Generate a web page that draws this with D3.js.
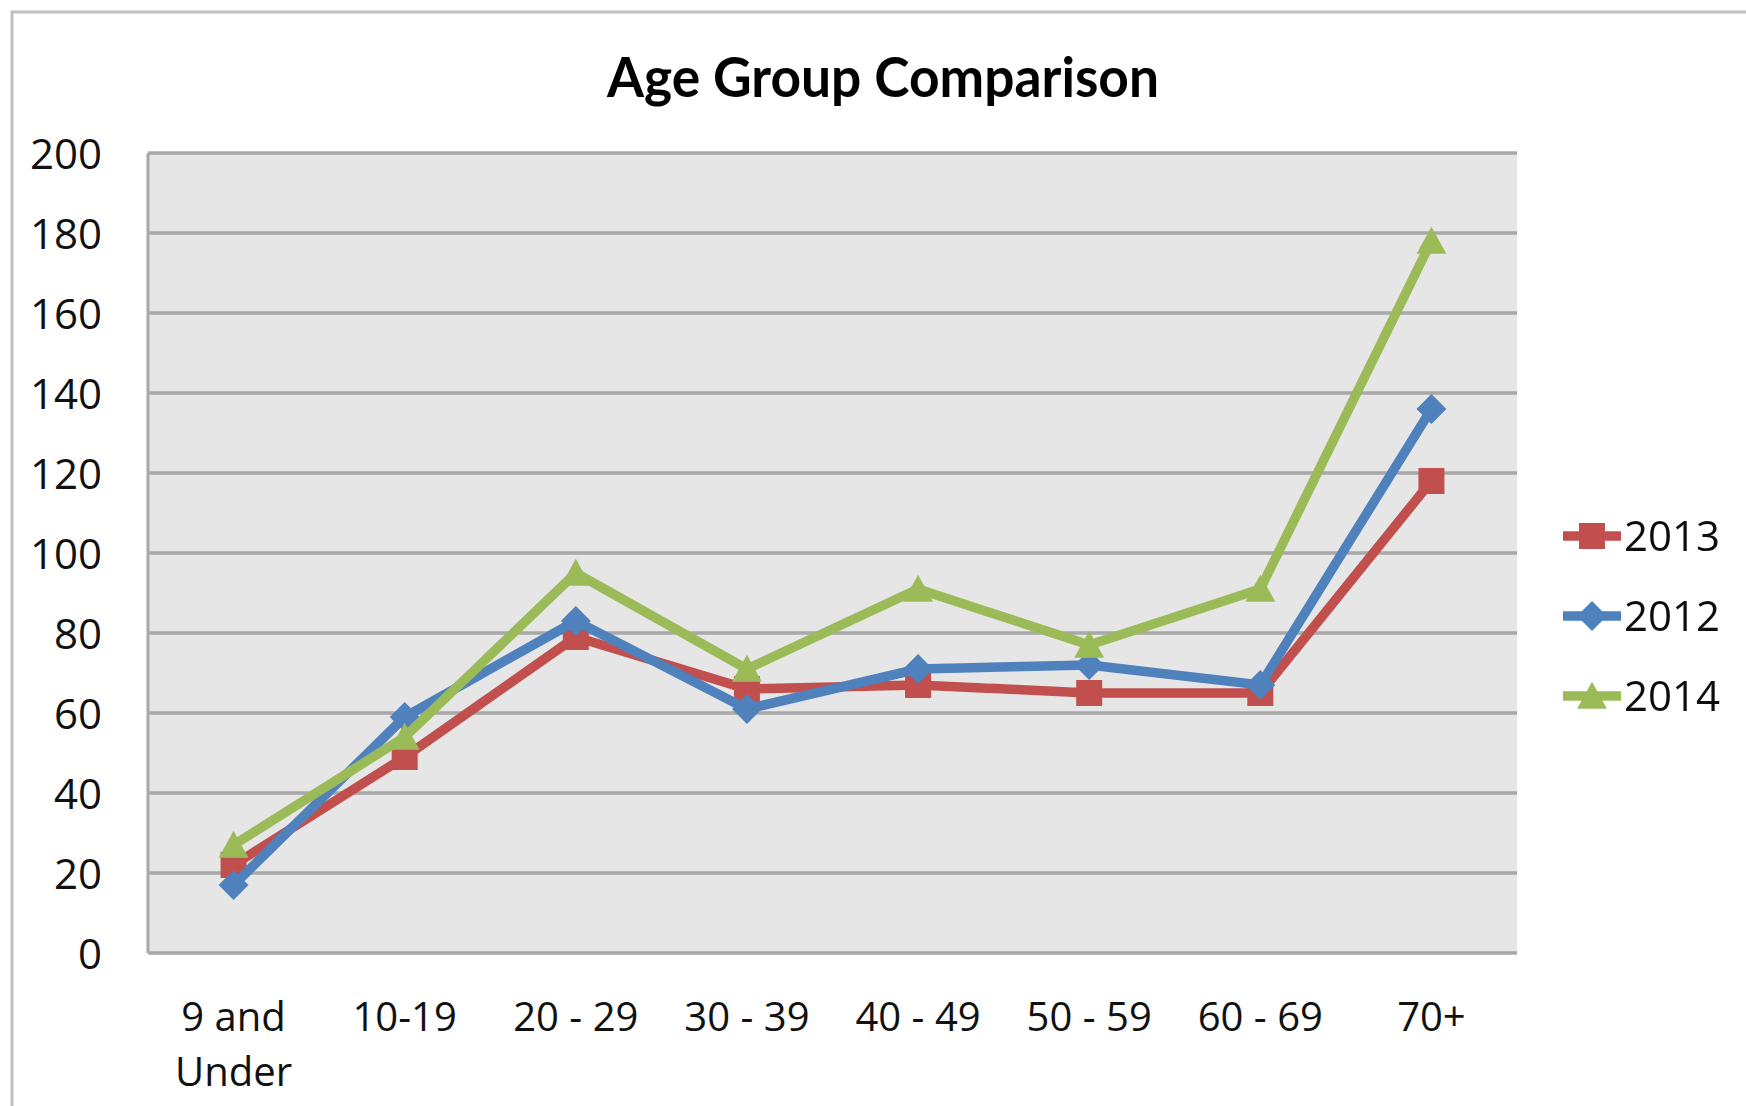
<!DOCTYPE html>
<html>
<head>
<meta charset="utf-8">
<script src="https://cdn.jsdelivr.net/npm/d3@7"></script>
<style>
  html, body { margin: 0; padding: 0; background: #ffffff; }
  svg { display: block; }
</style>
</head>
<body>
<svg id="chart" width="1746" height="1106"></svg>
<script>
// Age groups along the horizontal axis
const categories = ["9 and Under", "10-19", "20 - 29", "30 - 39", "40 - 49", "50 - 59", "60 - 69", "70+"];

// Counts per age group, one array per year
const values2013 = [22, 49, 79, 66, 67, 65, 65, 118];
const values2012 = [17, 59, 83, 61, 71, 72, 67, 136];
const values2014 = [27, 54, 95, 71, 91, 77, 91, 178];

// Legend order and series names
const seriesNames = ["2013", "2012", "2014"];

// Y axis ticks
const yTicks = [0, 20, 40, 60, 80, 100, 120, 140, 160, 180, 200];

const title = "Age Group Comparison";

const series = [
  { name: seriesNames[0], values: values2013, color: "#C0504D", shape: "square" },
  { name: seriesNames[1], values: values2012, color: "#4F81BD", shape: "diamond" },
  { name: seriesNames[2], values: values2014, color: "#9BBB59", shape: "triangle" }
];

const W = 1746, H = 1106;
const plot = { left: 148, right: 1517, top: 153, bottom: 953 };
const font = "'Open Sans', 'DejaVu Sans', sans-serif";

const svg = d3.select("#chart");

// Outer chart frame (runs off the right and bottom edges)
svg.append("rect")
  .attr("x", 12).attr("y", 12)
  .attr("width", W + 20).attr("height", H + 20)
  .attr("fill", "#ffffff")
  .attr("stroke", "#BEBEBE")
  .attr("stroke-width", 3);

const x = d3.scaleBand().domain(categories).range([plot.left, plot.right]);
const y = d3.scaleLinear().domain([0, 200]).range([plot.bottom, plot.top]);
const cx = d => x(d) + x.bandwidth() / 2;

// Plot background
svg.append("rect")
  .attr("x", plot.left).attr("y", plot.top)
  .attr("width", plot.right - plot.left).attr("height", plot.bottom - plot.top)
  .attr("fill", "#E6E6E6");

// Horizontal gridlines
svg.append("g").selectAll("line")
  .data(yTicks.filter(t => t > 0))
  .join("line")
  .attr("x1", plot.left).attr("x2", plot.right)
  .attr("y1", d => y(d)).attr("y2", d => y(d))
  .attr("stroke", "#A8A8A8")
  .attr("stroke-width", 3.5);

// Axis lines: left edge and baseline
svg.append("line")
  .attr("x1", plot.left).attr("x2", plot.left)
  .attr("y1", plot.top).attr("y2", plot.bottom)
  .attr("stroke", "#A8A8A8").attr("stroke-width", 3);
svg.append("line")
  .attr("x1", plot.left).attr("x2", plot.right)
  .attr("y1", plot.bottom).attr("y2", plot.bottom)
  .attr("stroke", "#A8A8A8").attr("stroke-width", 3.5);

// Y axis labels
const yAxis = d3.axisLeft(y).tickValues(yTicks).tickSize(0).tickPadding(0);
const yg = svg.append("g").attr("transform", `translate(102,0)`).call(yAxis);
yg.select(".domain").remove();
yg.selectAll("text")
  .attr("x", 0)
  .attr("dy", "0.36em")
  .attr("fill", "#111")
  .style("font-family", font)
  .style("font-size", "42px");

// X axis labels (wrapped onto two lines where needed)
const xLabelLines = {
  "9 and Under": ["9 and", "Under"]
};
const xg = svg.append("g");
categories.forEach(c => {
  const lines = xLabelLines[c] || [c];
  const t = xg.append("text")
    .attr("x", cx(c))
    .attr("y", 1031)
    .attr("text-anchor", "middle")
    .attr("fill", "#111")
    .style("font-family", font)
    .style("font-size", "40px");
  lines.forEach((ln, i) => {
    t.append("tspan").attr("x", cx(c)).attr("dy", i === 0 ? 0 : 55).text(ln);
  });
});

// Marker path generators centred on the origin
function markerPath(shape, s) {
  if (shape === "square") {
    return `M${-s},${-s}H${s}V${s}H${-s}Z`;
  }
  if (shape === "diamond") {
    const r = s * 1.15;
    return `M0,${-r}L${r},0L0,${r}L${-r},0Z`;
  }
  // triangle, apex up
  const h = s * 1.1;
  return `M0,${-h}L${s * 1.15},${h * 0.9}L${-s * 1.15},${h * 0.9}Z`;
}

const line = d3.line().x((d, i) => cx(categories[i])).y(d => y(d));

const soft = svg.append("defs").append("filter").attr("id", "soft")
  .attr("x", "-5%").attr("y", "-5%").attr("width", "110%").attr("height", "110%");
soft.append("feGaussianBlur").attr("stdDeviation", 0.7);

series.forEach(s => {
  const g = svg.append("g").attr("filter", "url(#soft)");
  g.append("path")
    .datum(s.values)
    .attr("d", line)
    .attr("fill", "none")
    .attr("stroke", s.color)
    .attr("stroke-width", 9.5)
    .attr("stroke-linejoin", "round");
  g.selectAll("path.mk")
    .data(s.values)
    .join("path")
    .attr("class", "mk")
    .attr("transform", (d, i) => `translate(${cx(categories[i])},${y(d)})`)
    .attr("d", markerPath(s.shape, 13))
    .attr("fill", s.color);
});

// Legend
const legendRows = [536, 616, 696];
series.forEach((s, i) => {
  const g = svg.append("g").attr("transform", `translate(0,${legendRows[i]})`).attr("filter", "url(#soft)");
  g.append("line")
    .attr("x1", 1563).attr("x2", 1621)
    .attr("y1", 0).attr("y2", 0)
    .attr("stroke", s.color).attr("stroke-width", 9.5);
  g.append("path")
    .attr("transform", "translate(1592,0)")
    .attr("d", markerPath(s.shape, 13))
    .attr("fill", s.color);
  g.append("text")
    .attr("x", 1624).attr("y", 0)
    .attr("dy", "0.36em")
    .attr("fill", "#111")
    .style("font-family", font)
    .style("font-size", "42px")
    .text(s.name);
});

// Title
svg.append("text")
  .attr("x", 883).attr("y", 97)
  .attr("text-anchor", "middle")
  .attr("fill", "#000")
  .style("font-family", "Lato, 'Open Sans', sans-serif")
  .style("font-weight", 700)
  .style("font-size", "55px")
  .attr("textLength", 552)
  .attr("lengthAdjust", "spacingAndGlyphs")
  .text(title);
</script>
</body>
</html>
